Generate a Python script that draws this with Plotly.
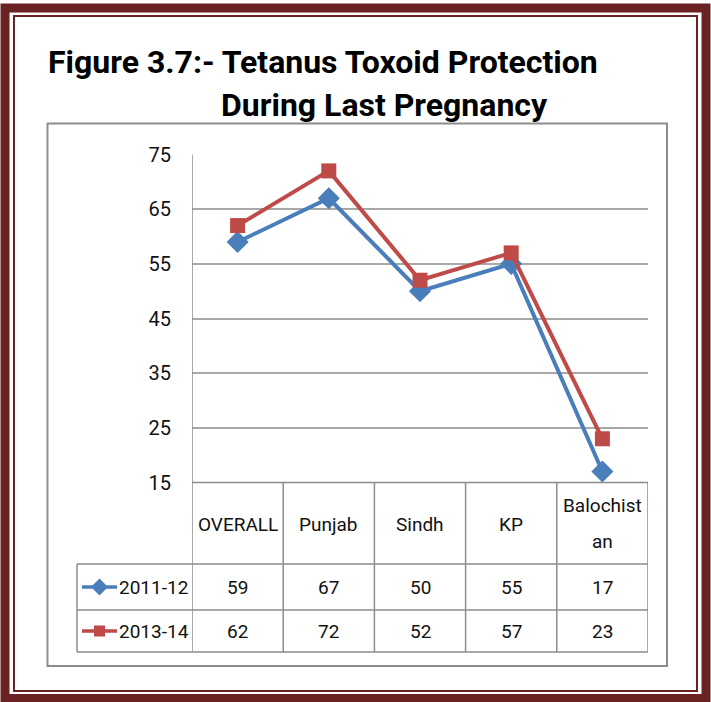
import plotly.graph_objects as go

# ---------------- data ----------------
categories = ["OVERALL", "Punjab", "Sindh", "KP", "Balochistan"]
header_labels = ["OVERALL", "Punjab", "Sindh", "KP", "Balochist<br>an"]
series_names = ["2011-12", "2013-14"]
values_2011 = [59, 67, 50, 55, 17]
values_2013 = [62, 72, 52, 57, 23]
y_ticks = [15, 25, 35, 45, 55, 65, 75]
title_line1 = "Figure 3.7:- Tetanus Toxoid Protection"
title_line2 = "During Last Pregnancy"

# ---------------- styling ----------------
W, H = 711, 702
BLUE = "#4A7EBB"
RED = "#BE4B48"
MAROON = "#6A2222"
BOX = "#8C8C8C"
GRID = "#A8A8A8"
TXT = "#111111"
FONT = "Roboto, Liberation Sans, sans-serif"


def px(x):
    return x / W


def py(y):
    return 1 - y / H


PLOT_L, PLOT_R = 192, 648
PLOT_T, PLOT_B = 154.5, 482.5
ROW1_T, ROW2_T, TABLE_B = 564, 610, 652
LEG_L = 77

fig = go.Figure()

series = [(series_names[0], values_2011, BLUE, "diamond", 17),
          (series_names[1], values_2013, RED, "square", 15)]

for name, vals, col, sym, size in series:
    fig.add_trace(go.Scatter(
        x=categories, y=vals, mode="lines+markers", name=name,
        line=dict(color=col, width=4),
        marker=dict(symbol=sym, size=size, color=col),
        xaxis="x", yaxis="y", showlegend=False, cliponaxis=False))

# legend keys inside the data table (pixel overlay axis)
row_centers = [(ROW1_T + ROW2_T) / 2, (ROW2_T + TABLE_B) / 2]
for (name, vals, col, sym, size), yc in zip(series, row_centers):
    fig.add_trace(go.Scatter(
        x=[82, 117], y=[yc, yc], mode="lines", line=dict(color=col, width=3.5),
        xaxis="x2", yaxis="y2", showlegend=False, hoverinfo="skip"))
    fig.add_trace(go.Scatter(
        x=[99.5], y=[yc], mode="markers", marker=dict(symbol=sym, size=size - 4, color=col),
        xaxis="x2", yaxis="y2", showlegend=False, hoverinfo="skip"))

shapes = []
# outer maroon frame
shapes.append(dict(type="rect", xref="paper", yref="paper",
                   x0=px(5), x1=px(706), y0=py(8), y1=py(698.5),
                   line=dict(color=MAROON, width=9)))
shapes.append(dict(type="rect", xref="paper", yref="paper",
                   x0=px(14), x1=px(697), y0=py(16), y1=py(691),
                   line=dict(color=MAROON, width=2)))
# chart area box
shapes.append(dict(type="rect", xref="paper", yref="paper",
                   x0=px(47.5), x1=px(667), y0=py(123.5), y1=py(666),
                   line=dict(color=BOX, width=2)))

# table grid: vertical lines at category boundaries
n = len(categories)
for i in range(n + 1):
    xb = -0.5 + i
    top = PLOT_T if i == 0 else PLOT_B
    shapes.append(dict(type="line", xref="x", yref="paper",
                       x0=xb, x1=xb, y0=py(top), y1=py(TABLE_B),
                       line=dict(color=BOX, width=1.5)))
# legend column left line
shapes.append(dict(type="line", xref="paper", yref="paper",
                   x0=px(LEG_L), x1=px(LEG_L), y0=py(ROW1_T), y1=py(TABLE_B),
                   line=dict(color=BOX, width=1.5)))
# horizontal table lines
shapes.append(dict(type="line", xref="x", yref="paper", x0=-0.5, x1=n - 0.5,
                   y0=py(PLOT_B), y1=py(PLOT_B), line=dict(color=BOX, width=1.5)))
for yy in (ROW1_T, ROW2_T, TABLE_B):
    shapes.append(dict(type="line", xref="paper", yref="paper",
                       x0=px(LEG_L), x1=px(PLOT_R), y0=py(yy), y1=py(yy),
                       line=dict(color=BOX, width=1.5)))

annotations = []
annotations.append(dict(text=title_line1, xref="paper", yref="paper",
                        x=px(46), y=py(62), xanchor="left", yanchor="middle",
                        showarrow=False,
                        font=dict(family=FONT, size=32, color="#000000", weight="bold")))
annotations.append(dict(text=title_line2, xref="paper", yref="paper",
                        x=px(219), y=py(105), xanchor="left", yanchor="middle",
                        showarrow=False,
                        font=dict(family=FONT, size=32, color="#000000", weight="bold")))

FS = 19
# header labels
for cat, lab in zip(categories, header_labels):
    lines = lab.split("<br>")
    ys = [524] if len(lines) == 1 else [505, 541]
    for ln, yy in zip(lines, ys):
        annotations.append(dict(text=ln, xref="x", yref="paper", x=cat, y=py(yy),
                                xanchor="center", yanchor="middle", showarrow=False,
                                font=dict(family=FONT, size=FS, color=TXT)))
# values
for (name, vals, col, sym, size), yc in zip(series, row_centers):
    annotations.append(dict(text=name, xref="paper", yref="paper", x=px(117), y=py(yc),
                            xanchor="left", yanchor="middle", showarrow=False,
                            font=dict(family=FONT, size=FS, color=TXT)))
    for cat, v in zip(categories, vals):
        annotations.append(dict(text=str(v), xref="x", yref="paper", x=cat, y=py(yc),
                                xanchor="center", yanchor="middle", showarrow=False,
                                font=dict(family=FONT, size=FS, color=TXT)))

fig.update_layout(
    width=W, height=H,
    margin=dict(l=0, r=0, t=0, b=0, autoexpand=False),
    paper_bgcolor="white", plot_bgcolor="rgba(0,0,0,0)",
    showlegend=False,
    xaxis=dict(domain=[px(PLOT_L), px(PLOT_R)], type="category",
               categoryarray=categories, range=[-0.5, n - 0.5],
               showticklabels=False, showgrid=False, zeroline=False,
               showline=False, ticks="", automargin=False),
    yaxis=dict(domain=[py(PLOT_B), py(PLOT_T)], range=[15, 75],
               tickvals=y_ticks, ticktext=[str(t) for t in y_ticks],
               showgrid=True, gridcolor=GRID, gridwidth=1.5, zeroline=False,
               showline=False, ticks="", ticklabelstandoff=20, automargin=False,
               tickfont=dict(family=FONT, size=20, color=TXT)),
    xaxis2=dict(domain=[0, 1], range=[0, W], visible=False, anchor="y2",
                fixedrange=True, automargin=False),
    yaxis2=dict(domain=[0, 1], range=[H, 0], visible=False, anchor="x2",
                fixedrange=True, automargin=False),
    shapes=shapes,
    annotations=annotations,
)

fig.write_html("out.html", config={"displayModeBar": False},
               post_script="document.body.style.margin='0';")
